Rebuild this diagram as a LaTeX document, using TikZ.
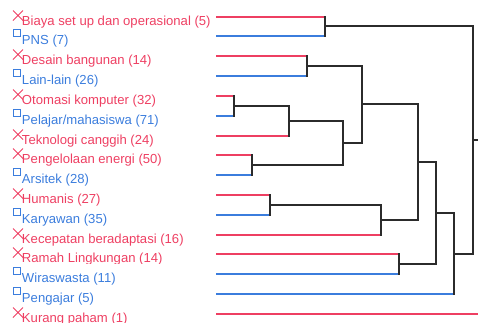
\documentclass[tikz,border=0pt]{standalone}
\usepackage{fontspec}
\setmainfont{Liberation Sans}
\usetikzlibrary{shapes.misc}

\definecolor{catred}{HTML}{EE3F62}
\definecolor{catblue}{HTML}{3B7DDD}
\definecolor{treeline}{HTML}{2B2B2B}

\tikzset{
  lbl/.style={anchor=base west, inner sep=0pt, font=\fontsize{13.1bp}{15bp}\selectfont},
  mkred/.style={cross out, draw=catred, line width=1bp, minimum size=9bp,
                inner sep=0pt, xshift=1bp, yshift=1.5bp},
  mkblue/.style={rectangle, draw=catblue, line width=1bp, minimum size=7bp,
                 inner sep=0pt, yshift=3bp},
  lnred/.style={draw=catred, line width=1.6bp},
  lnblue/.style={draw=catblue, line width=1.6bp},
  tree/.style={draw=treeline, line width=1.8bp, line cap=rect},
}

% one leaf: name, colour kind, row height, label, merge it joins
\newcommand{\leafrow}[5]{%
  \coordinate (#1) at (216,#3);
  \node[lbl, text=cat#2] (#1txt) at (21.8,#3+8) {#4};
  \node[mk#2] (#1mk) at (17,#3) {};
  \draw[ln#2] (#1) -- (#1 -| #5);
}

\begin{document}
\begin{tikzpicture}[x=1bp,y=-1bp]
\useasboundingbox (0,0) rectangle (478,322);

% merge points of the dendrogram
\coordinate (mA) at (325,26);
\coordinate (mB) at (307,66);
\coordinate (mC) at (234,106);
\coordinate (mD) at (289,121);
\coordinate (mE) at (252,165);
\coordinate (mF) at (343,143);
\coordinate (mG) at (362,104);
\coordinate (mH) at (270,205);
\coordinate (mI) at (381,220);
\coordinate (mJ) at (418,162);
\coordinate (mK) at (399,264);
\coordinate (mL) at (436,213);
\coordinate (mM) at (454,254);
\coordinate (mN) at (473,140);
\coordinate (rootend) at (478,140);
\coordinate (lastend) at (478,314);

% leaves
\leafrow{l0}{red}{17}{Biaya set up dan operasional (5)}{mA}
\leafrow{l1}{blue}{36}{PNS (7)}{mA}
\leafrow{l2}{red}{56}{Desain bangunan (14)}{mB}
\leafrow{l3}{blue}{76}{Lain-lain (26)}{mB}
\leafrow{l4}{red}{96}{Otomasi komputer (32)}{mC}
\leafrow{l5}{blue}{116}{Pelajar/mahasiswa (71)}{mC}
\leafrow{l6}{red}{136}{Teknologi canggih (24)}{mD}
\leafrow{l7}{red}{155}{Pengelolaan energi (50)}{mE}
\leafrow{l8}{blue}{175}{Arsitek (28)}{mE}
\leafrow{l9}{red}{195}{Humanis (27)}{mH}
\leafrow{l10}{blue}{215}{Karyawan (35)}{mH}
\leafrow{l11}{red}{235}{Kecepatan beradaptasi (16)}{mI}
\begin{scope}
  \clip (0,240) rectangle (215,263);
  \node[lbl, text=catred] (l12txt) at (21.8,262) {Ramah Lingkungan (14)};
\end{scope}
\coordinate (l12) at (216,254);
\node[mkred] (l12mk) at (17,254) {};
\draw[lnred] (l12) -- (l12 -| mK);
\leafrow{l13}{blue}{274}{Wiraswasta (11)}{mK}
\leafrow{l14}{blue}{294}{Pengajar (5)}{mM}
\leafrow{l15}{red}{314}{Kurang paham (1)}{lastend}

% joins
\draw[tree] (l0 -| mA) -- (l1 -| mA);
\draw[tree] (mA) -- (mA -| mN);
\draw[tree] (l2 -| mB) -- (l3 -| mB);
\draw[tree] (mB) -- (mB -| mG);
\draw[tree] (l4 -| mC) -- (l5 -| mC);
\draw[tree] (mC) -- (mC -| mD);
\draw[tree] (mC -| mD) -- (l6 -| mD);
\draw[tree] (mD) -- (mD -| mF);
\draw[tree] (l7 -| mE) -- (l8 -| mE);
\draw[tree] (mE) -- (mE -| mF);
\draw[tree] (mD -| mF) -- (mE -| mF);
\draw[tree] (mF) -- (mF -| mG);
\draw[tree] (mB -| mG) -- (mF -| mG);
\draw[tree] (mG) -- (mG -| mJ);
\draw[tree] (l9 -| mH) -- (l10 -| mH);
\draw[tree] (mH) -- (mH -| mI);
\draw[tree] (mH -| mI) -- (l11 -| mI);
\draw[tree] (mI) -- (mI -| mJ);
\draw[tree] (mG -| mJ) -- (mI -| mJ);
\draw[tree] (mJ) -- (mJ -| mL);
\draw[tree] (l12 -| mK) -- (l13 -| mK);
\draw[tree] (mK) -- (mK -| mL);
\draw[tree] (mJ -| mL) -- (mK -| mL);
\draw[tree] (mL) -- (mL -| mM);
\draw[tree] (mL -| mM) -- (l14 -| mM);
\draw[tree] (mM) -- (mM -| mN);
\draw[tree] (mA -| mN) -- (mM -| mN);
\draw[tree] (mN) -- (rootend);
\end{tikzpicture}
\end{document}
